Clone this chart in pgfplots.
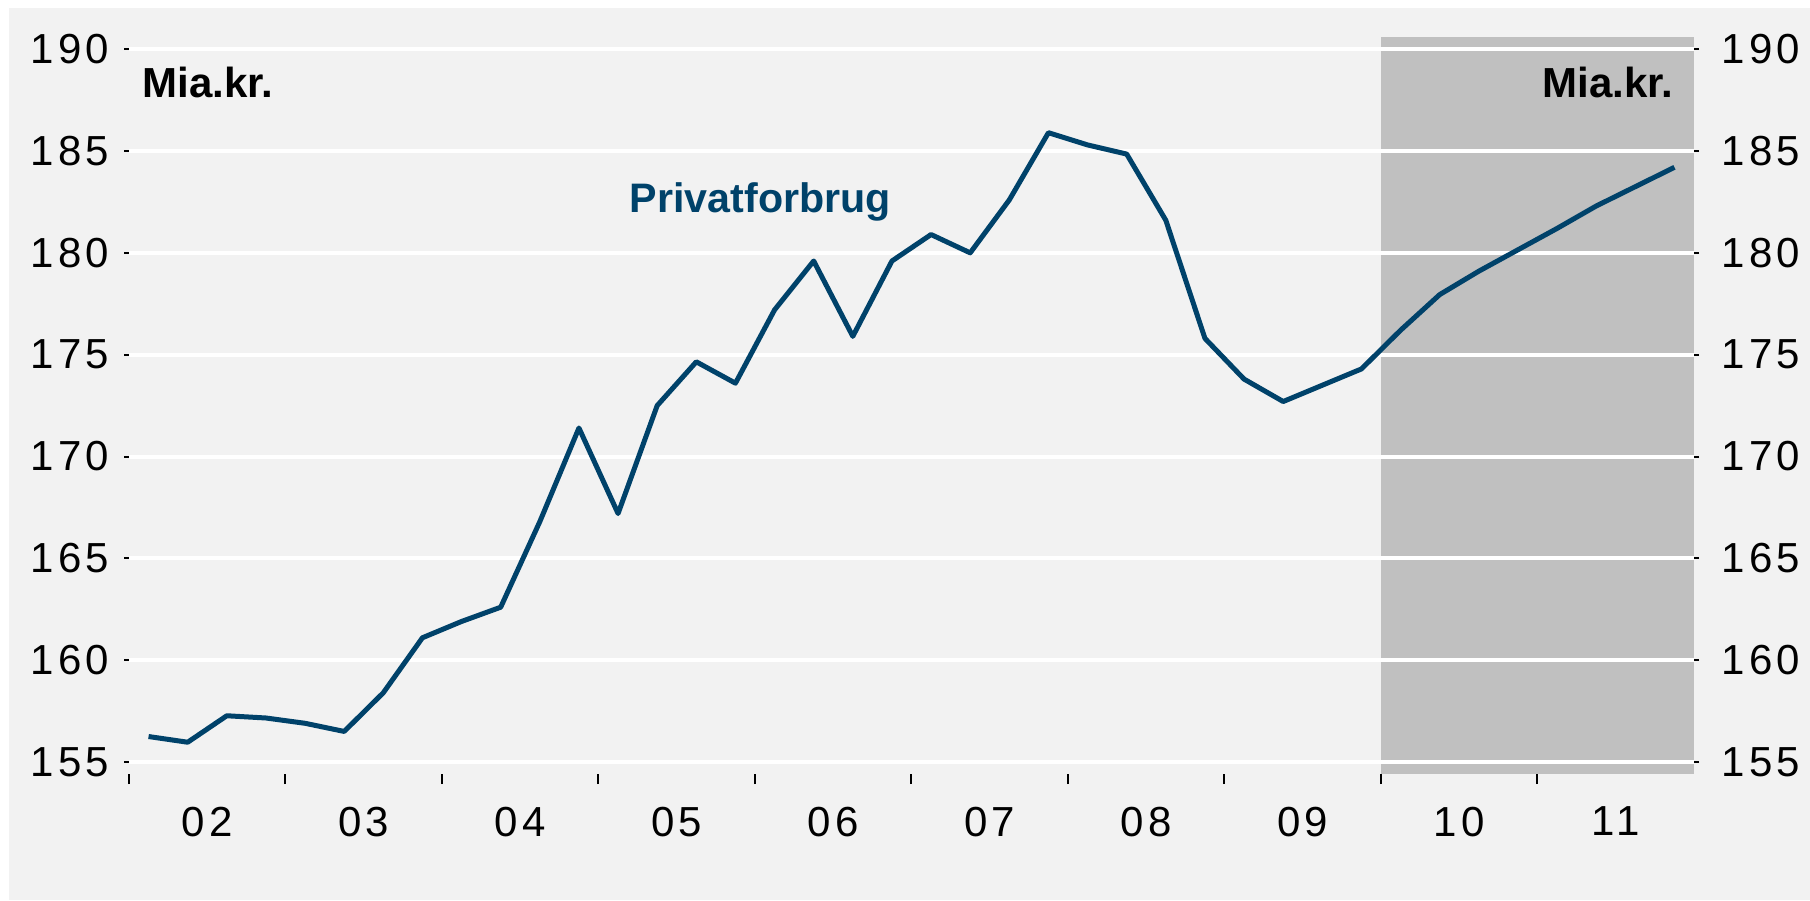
\documentclass[border=0pt]{standalone}
\usepackage{fontspec}
\setmainfont{Liberation Sans}
\newfontfamily\tickfont[LetterSpace=10]{Liberation Sans}
\usepackage{pgfplots}
\pgfplotsset{compat=1.18}
\definecolor{bgc}{HTML}{F2F2F2}
\definecolor{shadec}{HTML}{C0C0C0}
\definecolor{linec}{HTML}{00426A}

\pgfplotstableread{
x y
2002.125 156.25
2002.375 155.97
2002.625 157.27
2002.875 157.16
2003.125 156.90
2003.375 156.50
2003.625 158.40
2003.875 161.10
2004.125 161.90
2004.375 162.60
2004.625 166.80
2004.875 171.40
2005.125 167.20
2005.375 172.50
2005.625 174.65
2005.875 173.60
2006.125 177.20
2006.375 179.60
2006.625 175.90
2006.875 179.60
2007.125 180.90
2007.375 180.00
2007.625 182.60
2007.875 185.90
2008.125 185.30
2008.375 184.85
2008.625 181.60
2008.875 175.80
2009.125 173.80
2009.375 172.70
2009.625 173.50
2009.875 174.30
2010.125 176.20
2010.375 177.95
2010.625 179.10
2010.875 180.15
2011.125 181.20
2011.375 182.30
2011.625 183.25
2011.875 184.20
}\privat

\pgfplotstableread{
x y
2010 154.41
2010 190.6
2012 190.6
2012 154.41
}\shade

\pgfplotsset{
  commonax/.style={
    scale only axis,
    at={(32.25pt,31.5pt)}, anchor=south west,
    width=391.25pt, height=184.25pt,
    xmin=2002, xmax=2012,
    ymin=154.41, ymax=190.6,
    axis line style={draw=none},
    ytick={155,160,...,190},
    tick align=outside,
    tick style={black, line width=0.5pt},
    tick label style={font=\tickfont\fontsize{10.5}{12}\selectfont, text=black},
    /pgf/number format/assume math mode=true,
  }
}

\begin{document}
\begin{tikzpicture}
\fill[white] (0pt,0pt) rectangle (452.5pt,225pt);
\fill[bgc] (2.25pt,0pt) rectangle (452.5pt,223pt);
% axis 1: shade, grid on top of it, x tick marks
\begin{axis}[
  commonax,
  axis on top,
  ymajorgrids,
  grid style={white, line width=1pt},
  xtick={2002,...,2011},
  xticklabels={},
  xtick pos=bottom,
  major tick length=2.5pt,
  ytick style={draw=none},
  yticklabels={},
]
\addplot[fill=shadec, draw=none] table[x=x,y=y] {\shade} -- cycle;
\end{axis}
% axis 2: the series, left labels, x labels
\begin{axis}[
  commonax,
  xtick={2002.5,2003.5,2004.5,2005.5,2006.5,2007.5,2008.5,2009.5,2010.5,2011.5},
  xticklabels={02,03,04,05,06,07,08,09,10,11},
  xtick pos=bottom,
  xtick style={draw=none},
  xticklabel style={inner sep=0pt, yshift=-6.75pt},
  ytick pos=left,
  major tick length=1.25pt,
  yticklabel style={anchor=east, inner sep=0pt, xshift=-3.5pt},
]
\addplot[linec, line width=1.25pt, line join=round] table[x=x,y=y] {\privat};
\end{axis}
% axis 3: right labels
\begin{axis}[
  commonax,
  xtick=\empty,
  ytick pos=right,
  yticklabel pos=right,
  major tick length=1.25pt,
  yticklabel style={anchor=west, inner sep=0pt, xshift=5.5pt},
]
\addplot[draw=none] table[x=x,y=y] {\privat};
\end{axis}
\node[anchor=base west, inner sep=0pt, font=\bfseries\fontsize{10.5}{12}\selectfont] at (35.5pt,200.5pt) {Mia.kr.};
\node[anchor=base east, inner sep=0pt, font=\bfseries\fontsize{10.5}{12}\selectfont] at (418.5pt,200.5pt) {Mia.kr.};
\node[anchor=base west, inner sep=0pt, text=linec, font=\bfseries\fontsize{10.3}{12}\selectfont] at (157.25pt,171.75pt) {Privatforbrug};
\pgfresetboundingbox
\useasboundingbox (0pt,0pt) rectangle (452.5pt,225pt);
\end{tikzpicture}
\end{document}
